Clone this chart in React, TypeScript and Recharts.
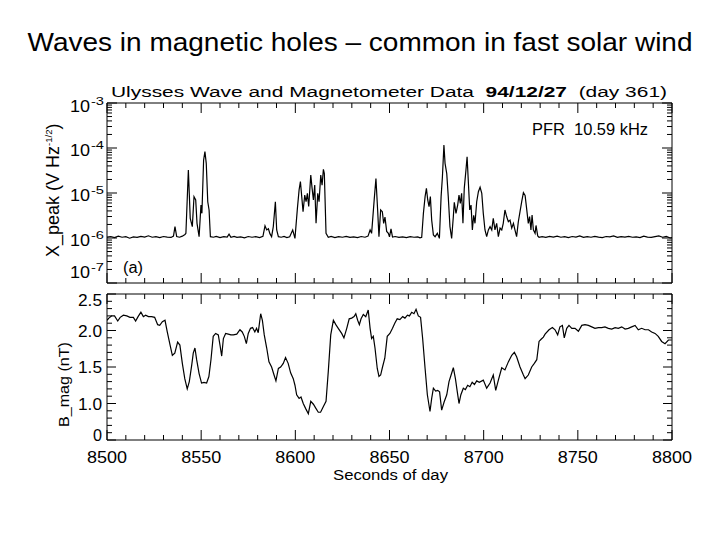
import { LineChart, Line, XAxis, YAxis } from 'recharts';

const FONT = '"Liberation Sans", Arial, Helvetica, sans-serif';

// X_peak (PFR 10.59 kHz), values in units of 1e-6 V Hz^-1/2
const xpTime = [
  8500, 8502, 8504, 8506, 8508, 8510, 8512, 8514, 8516, 8518, 8520, 8522, 8524, 8526, 8528, 8530,
  8532, 8534, 8535.3, 8536.1, 8537, 8538.5, 8540, 8541.4, 8541.9, 8543.2, 8544.2, 8545.3, 8546.2,
  8547.1, 8547.8, 8548.9, 8549.9, 8550.4, 8551.3, 8552.0, 8552.7, 8553.5, 8554.2, 8554.9, 8556.5,
  8558, 8560, 8562, 8563.8, 8564.8, 8565.8, 8567.5, 8569, 8571, 8573, 8575, 8577, 8579, 8581,
  8582.8, 8583.9, 8584.8, 8585.7, 8586.5, 8587.4, 8588.3, 8589.4, 8590.1, 8591.0, 8592.5, 8594,
  8595.5, 8597, 8598.6, 8599.8, 8601.1, 8602.0, 8602.7, 8603.4, 8604.1, 8605.0, 8605.7, 8606.4,
  8607.1, 8608.2, 8608.9, 8609.6, 8610.3, 8611.0, 8611.9, 8612.6, 8613.5, 8614.2, 8614.9, 8615.4,
  8616.3, 8617.5, 8619, 8621, 8623, 8625, 8627, 8629, 8631, 8633, 8635, 8637, 8638.6, 8639.7,
  8640.5, 8641.9, 8642.8, 8643.7, 8644.4, 8645.3, 8646.2, 8646.9, 8647.6, 8648.5, 8649.4, 8650.0,
  8650.8, 8651.6, 8653, 8655, 8657, 8659, 8661, 8663, 8665, 8666.2, 8667.1, 8668.0, 8668.9, 8669.6,
  8670.3, 8671.0, 8671.7, 8672.4, 8673.3, 8674.2, 8675.4, 8676.5, 8677.4, 8678.1, 8678.9, 8679.5,
  8680.4, 8681.2, 8682.1, 8683.0, 8683.9, 8684.4, 8685.3, 8686.2, 8686.9, 8687.6, 8688.3, 8689.0,
  8689.7, 8690.6, 8691.2, 8691.9, 8692.6, 8693.3, 8694.0, 8694.7, 8695.4, 8696.3, 8697.2, 8698.1,
  8699.0, 8699.8, 8700.7, 8701.6, 8702.5, 8703.4, 8704.3, 8705.1, 8706.0, 8706.9, 8707.8, 8708.7,
  8709.6, 8710.4, 8711.3, 8712.2, 8713.1, 8714.0, 8714.9, 8715.8, 8716.6, 8717.5, 8718.4, 8719.3,
  8720.2, 8721.1, 8722.0, 8722.8, 8723.7, 8724.4, 8725.1, 8725.7, 8726.4, 8727.3, 8727.8, 8728.7,
  8729.4, 8731, 8733, 8735, 8737, 8739, 8741, 8743, 8745, 8747, 8749, 8751, 8753, 8755, 8757, 8759,
  8761, 8763, 8765, 8767, 8769, 8771, 8773, 8775, 8777, 8779, 8781, 8783, 8785, 8787, 8789, 8791,
  8793, 8795, 8797, 8799, 8800,
];
const xpVal = [
  1.05, 1.08, 1.02, 1.10, 1.04, 1.07, 0.99, 1.06, 1.03, 1.09, 1.05, 1.12, 1.04, 1.07, 1.02, 1.08,
  1.05, 1.03, 1.10, 1.79, 1.08, 1.04, 1.10, 1.20, 1.27, 32.4, 2.73, 1.79, 8.3,
  7.0, 2.12, 1.07, 5.4, 3.53, 54, 83, 45.6, 6.4, 4.2, 1.07, 1.04,
  1.09, 1.02, 1.07, 1.05, 1.22, 1.04, 1.08, 1.03, 1.06, 1.01, 1.08, 1.04, 1.07, 1.02,
  1.09, 1.86, 1.51, 1.60, 1.25, 1.07, 1.79, 6.4, 1.51, 1.07, 1.04, 1.08,
  1.02, 1.06, 1.51, 0.98, 4.56, 11.7, 17.9, 8.3, 3.85, 9.0, 6.4, 9.8,
  5.0, 25, 12.7, 7.0, 15, 2.12, 9.8, 6.4, 25, 15, 33.6, 27,
  1.27, 1.04, 1.08, 1.02, 1.07, 1.04, 1.09, 1.03, 1.06, 1.02, 1.08, 1.04, 1.10, 1.51,
  1.27, 7.3, 21, 4.2, 1.07, 4.2, 3.85, 2.12, 2.9, 1.4, 1.27, 1.06,
  1.60, 1.05, 1.08, 1.03, 1.06, 1.02, 1.07, 1.04, 1.06, 1.01, 1.04, 3.53, 8.3, 12.7,
  7.0, 5.0, 8.3, 2.5, 1.17, 1.07, 1.27, 0.98, 8.3, 23, 117, 45.6,
  27, 8.3, 1.79, 0.98, 3.0, 6.2, 3.53, 5.4, 9.0, 5.9, 9.8, 2.12,
  12.7, 32.4, 64, 16.4, 4.2, 5.4, 1.51, 3.2, 2.12, 6.4, 10.7, 13.4,
  9.8, 3.53, 1.51, 1.07, 1.51, 1.79, 1.51, 2.73, 1.51, 2.12, 1.07, 1.66,
  1.51, 2.12, 4.2, 3.0, 2.3, 2.5, 1.66, 2.12, 1.51, 1.07, 2.3, 3.85,
  6.4, 10.2, 8.8, 4.56, 2.12, 3.0, 1.51, 3.24, 1.51, 1.27, 1.9, 1.11,
  1.04, 1.07, 1.03, 1.09, 1.05, 1.10, 1.04, 1.07, 1.02, 1.08, 1.05, 1.11, 1.03, 1.07, 1.04, 1.09,
  1.05, 1.02, 1.08, 1.06, 1.11, 1.03, 1.07, 1.05, 1.09, 1.04, 1.06, 1.02, 1.10, 1.05, 1.03, 1.07,
  1.11, 1.04, 1.08, 1.00, 1.02,
];

// B_mag (nT)
const bTime = [
  8500.0, 8501.0, 8502.5, 8504.0, 8505.7, 8507.0, 8508.7, 8510.5, 8512.2, 8514.0, 8515.2, 8516.5,
  8518.0, 8519.3, 8520.5, 8522.0, 8523.7, 8525.3, 8526.9, 8528.0, 8529.4, 8530.8, 8532.0, 8533.5,
  8534.7, 8536.0, 8537.5, 8538.7, 8540.0, 8541.3, 8542.6, 8543.7, 8545.0, 8545.8, 8546.7, 8547.6,
  8548.9, 8550.2, 8551.5, 8552.9, 8554.1, 8555.2, 8556.4, 8557.7, 8559.1, 8560.0, 8560.9, 8561.8,
  8563.0, 8564.4, 8565.8, 8567.1, 8568.9, 8570.6, 8571.8, 8572.9, 8574.0, 8575.0, 8576.2, 8577.3,
  8578.5, 8579.4, 8580.3, 8581.6, 8582.5, 8583.5, 8584.8, 8586.0, 8587.4, 8588.7, 8589.7, 8591.0,
  8592.2, 8593.6, 8594.8, 8596.2, 8597.5, 8598.9, 8599.8, 8600.7, 8602.0, 8603.0, 8604.2, 8605.5,
  8606.9, 8608.2, 8609.6, 8611.0, 8612.2, 8613.4, 8614.9, 8616.3, 8617.5, 8618.8, 8620.2, 8621.5,
  8622.8, 8624.6, 8625.8, 8627.3, 8628.6, 8629.9, 8631.2, 8632.1, 8633.1, 8634.0, 8634.9, 8636.1,
  8637.4, 8638.7, 8639.7, 8640.5, 8641.4, 8642.3, 8643.5, 8644.4, 8645.3, 8646.3, 8647.5, 8648.8,
  8650.2, 8651.6, 8652.8, 8654.1, 8655.5, 8657.0, 8658.2, 8659.5, 8660.6, 8661.8, 8663.0, 8664.1,
  8665.3, 8666.5, 8667.6, 8668.9, 8670.1, 8671.5, 8672.4, 8673.3, 8674.5, 8675.6, 8676.6, 8677.7,
  8679.0, 8680.4, 8681.6, 8682.7, 8683.9, 8685.0, 8686.0, 8686.9, 8687.9, 8689.2, 8690.3, 8691.5,
  8692.7, 8693.9, 8695.1, 8696.3, 8697.7, 8699.8, 8701.6, 8703.4, 8705.1, 8706.4, 8707.8, 8709.6,
  8711.3, 8713.1, 8714.9, 8716.3, 8717.5, 8719.3, 8721.1, 8722.0, 8723.7, 8725.5, 8726.9, 8728.2,
  8729.4, 8730.5, 8731.7, 8732.6, 8734.7, 8736.5, 8737.9, 8739.3, 8740.5, 8741.8, 8742.8, 8744.1,
  8745.3, 8746.8, 8748.5, 8750.3, 8752.1, 8753.8, 8755.6, 8757.4, 8759.1, 8760.9, 8762.7, 8764.4,
  8766.2, 8768.0, 8769.8, 8771.5, 8773.3, 8775.1, 8776.8, 8778.6, 8780.4, 8782.1, 8783.9, 8785.7,
  8787.5, 8789.2, 8791.0, 8792.7, 8794.5, 8796.3, 8798.1, 8799.9,
];
const bVal = [
  2.14, 2.17, 2.20, 2.20, 2.13, 2.18, 2.21, 2.20, 2.18, 2.18, 2.13, 2.19,
  2.25, 2.19, 2.21, 2.19, 2.19, 2.18, 2.08, 2.07, 2.12, 2.14, 1.98, 1.80,
  1.66, 1.69, 1.84, 1.80, 1.55, 1.34, 1.20, 1.30, 1.53, 1.69, 1.76, 1.60,
  1.41, 1.28, 1.29, 1.28, 1.37, 1.60, 1.92, 1.96, 1.94, 1.80, 1.65, 1.89,
  1.96, 1.95, 1.94, 1.94, 1.95, 2.01, 1.98, 1.92, 1.82, 1.96, 2.03, 2.04,
  1.98, 2.03, 1.97, 2.23, 2.14, 1.94, 1.76, 1.57, 1.50, 1.39, 1.31, 1.48,
  1.50, 1.55, 1.63, 1.55, 1.42, 1.34, 1.25, 1.12, 1.07, 1.09, 1.00, 0.93,
  0.86, 1.03, 0.99, 0.93, 0.88, 0.88, 0.96, 1.03, 1.44, 1.94, 2.14, 2.08,
  2.03, 1.96, 1.90, 2.03, 2.16, 2.17, 2.19, 2.23, 2.14, 2.08, 2.16, 2.22,
  2.19, 2.28, 2.03, 1.89, 1.92, 1.76, 1.48, 1.37, 1.39, 1.50, 1.62, 1.92,
  1.96, 2.03, 2.10, 2.16, 2.15, 2.19, 2.17, 2.21, 2.20, 2.25, 2.23, 2.29,
  2.20, 2.18, 1.89, 1.48, 1.12, 0.89, 1.07, 1.21, 1.17, 1.18, 1.16, 0.91,
  1.02, 1.12, 1.30, 1.39, 1.49, 1.34, 1.16, 1.00, 1.12, 1.21, 1.19, 1.25,
  1.23, 1.29, 1.26, 1.31, 1.29, 1.32, 1.21, 1.28, 1.39, 1.18, 1.32, 1.49,
  1.46, 1.57, 1.66, 1.70, 1.64, 1.50, 1.39, 1.34, 1.39, 1.50, 1.55, 1.60,
  1.85, 1.88, 1.91, 1.95, 2.01, 2.04, 2.01, 1.94, 2.05, 2.07, 1.90, 2.03,
  2.07, 2.03, 2.03, 1.99, 2.07, 2.08, 2.07, 2.05, 2.03, 2.04, 2.04, 2.05,
  2.03, 2.02, 2.04, 2.03, 2.05, 2.02, 2.03, 2.05, 2.07, 2.01, 2.03, 2.01,
  2.01, 1.98, 1.96, 1.92, 1.85, 1.82, 1.87, 1.87,
];

// axes
const xTicks = [
  8500, 8510, 8520, 8530, 8540, 8550, 8560, 8570, 8580, 8590, 8600, 8610, 8620, 8630, 8640, 8650,
  8660, 8670, 8680, 8690, 8700, 8710, 8720, 8730, 8740, 8750, 8760, 8770, 8780, 8790, 8800,
];
const xMajor = [8500, 8550, 8600, 8650, 8700, 8750, 8800];
const xLabels = ['8500', '8550', '8600', '8650', '8700', '8750', '8800'];

const logDecades = [1e-7, 1e-6, 1e-5, 1e-4];
const logMult = [1, 2, 3, 4, 5, 6, 7, 8, 9];
const logMajor = [1e-7, 1e-6, 1e-5, 1e-4, 1e-3];
const logExp = ['-7', '-6', '-5', '-4', '-3'];
const logTicks = logDecades.flatMap((d) => logMult.map((m) => m * d)).concat([1e-3]);

const bTicks = [
  0.5, 0.6, 0.7, 0.8, 0.9, 1.0, 1.1, 1.2, 1.3, 1.4, 1.5, 1.6, 1.7, 1.8, 1.9, 2.0, 2.1, 2.2, 2.3,
  2.4, 2.5,
];
const bMajor = [0.5, 1.0, 1.5, 2.0, 2.5];
const bLabels = ['0', '1.0', '1.5', '2.0', '2.5'];

const topData = xpTime.map((t, i) => ({ t, v: xpVal[i] * 1e-6 }));
const botData = bTime.map((t, i) => ({ t, v: bVal[i] }));

const near = (a: number, b: number) => Math.abs(a / b - 1) < 1e-6;

function XTick({ x, y, payload, dir, labels }: any) {
  const v = payload.value;
  const mi = xMajor.indexOf(v);
  const len = mi >= 0 ? 10 : 5;
  return (
    <g>
      <line x1={x} y1={y} x2={x} y2={y + dir * len} stroke="#000" strokeWidth={1} />
      {labels && mi >= 0 && (
        <text x={x} y={y + 23} textAnchor="middle" fontSize={16} fontFamily={FONT}
          textLength={40} lengthAdjust="spacingAndGlyphs" fill="#000">
          {xLabels[mi]}
        </text>
      )}
    </g>
  );
}

function LogTick({ x, y, payload, dir, labels }: any) {
  const v = payload.value;
  const mi = logMajor.findIndex((m) => near(v, m));
  const len = mi >= 0 ? 10 : 5;
  let base = y + 8;
  if (mi === 4) base = y + 9;
  if (mi === 0) base = y - 5;
  return (
    <g>
      <line x1={x} y1={y} x2={x + dir * len} y2={y} stroke="#000" strokeWidth={1} />
      {labels && mi >= 0 && (
        <g fontFamily={FONT} fill="#000">
          <text x={x - 17} y={base} textAnchor="end" fontSize={16} textLength={20}
            lengthAdjust="spacingAndGlyphs">10</text>
          <text x={x - 16} y={base - 7} fontSize={11} textLength={13}
            lengthAdjust="spacingAndGlyphs">{logExp[mi]}</text>
        </g>
      )}
    </g>
  );
}

function BTick({ x, y, payload, dir, labels }: any) {
  const v = payload.value;
  const mi = bMajor.findIndex((m) => near(v, m));
  const len = mi >= 0 ? 9 : 5;
  let base = y + 6;
  if (mi === 4) base = y + 12;
  if (mi === 0) base = y + 1;
  const w = bLabels[mi] === '0' ? 9 : 24;
  return (
    <g>
      <line x1={x} y1={y} x2={x + dir * len} y2={y} stroke="#000" strokeWidth={1} />
      {labels && mi >= 0 && (
        <text x={x - 5} y={base} textAnchor="end" fontSize={16} fontFamily={FONT}
          textLength={w} lengthAdjust="spacingAndGlyphs" fill="#000">
          {bLabels[mi]}
        </text>
      )}
    </g>
  );
}

const axisLine = { stroke: '#000', strokeWidth: 1 };

export default function App() {
  return (
    <div style={{ position: 'absolute', left: 0, top: 0, width: 720, height: 540, background: '#fff', fontFamily: FONT }}>
      <div style={{ position: 'absolute', left: 0, top: 0 }}>
        <LineChart width={720} height={540} data={topData}
          margin={{ top: 102, right: 47, bottom: 256, left: 106 }}>
          <XAxis xAxisId="b" dataKey="t" type="number" domain={[8500, 8800]} allowDataOverflow
            ticks={xTicks} interval={0} height={1} tickSize={0} tickMargin={0} axisLine={axisLine}
            tickLine={false} tick={(p: any) => <XTick {...p} dir={-1} labels={false} />} />
          <XAxis xAxisId="t" orientation="top" dataKey="t" type="number" domain={[8500, 8800]} allowDataOverflow
            ticks={xTicks} interval={0} height={1} tickSize={0} tickMargin={0} axisLine={axisLine}
            tickLine={false} tick={(p: any) => <XTick {...p} dir={1} labels={false} />} />
          <YAxis yAxisId="l" scale="log" type="number" domain={[1e-7, 1e-3]} allowDataOverflow
            ticks={logTicks} interval={0} width={1} tickSize={0} tickMargin={0} axisLine={axisLine}
            tickLine={false} tick={(p: any) => <LogTick {...p} dir={1} labels />} />
          <YAxis yAxisId="r" orientation="right" scale="log" type="number" domain={[1e-7, 1e-3]} allowDataOverflow
            ticks={logTicks} interval={0} width={1} tickSize={0} tickMargin={0} axisLine={axisLine}
            tickLine={false} tick={(p: any) => <LogTick {...p} dir={-1} labels={false} />} />
          <Line xAxisId="b" yAxisId="l" type="linear" dataKey="v" stroke="#000" strokeWidth={1.2}
            dot={false} isAnimationActive={false} />
        </LineChart>
      </div>
      <div style={{ position: 'absolute', left: 0, top: 0 }}>
        <LineChart width={720} height={540} data={botData}
          margin={{ top: 293, right: 47, bottom: 99, left: 106 }}>
          <XAxis xAxisId="b" dataKey="t" type="number" domain={[8500, 8800]} allowDataOverflow
            ticks={xTicks} interval={0} height={1} tickSize={0} tickMargin={0} axisLine={axisLine}
            tickLine={false} tick={(p: any) => <XTick {...p} dir={-1} labels />} />
          <XAxis xAxisId="t" orientation="top" dataKey="t" type="number" domain={[8500, 8800]} allowDataOverflow
            ticks={xTicks} interval={0} height={1} tickSize={0} tickMargin={0} axisLine={axisLine}
            tickLine={false} tick={(p: any) => <XTick {...p} dir={1} labels={false} />} />
          <YAxis yAxisId="l" type="number" domain={[0.5, 2.5]} allowDataOverflow
            ticks={bTicks} interval={0} width={1} tickSize={0} tickMargin={0} axisLine={axisLine}
            tickLine={false} tick={(p: any) => <BTick {...p} dir={1} labels />} />
          <YAxis yAxisId="r" orientation="right" type="number" domain={[0.5, 2.5]} allowDataOverflow
            ticks={bTicks} interval={0} width={1} tickSize={0} tickMargin={0} axisLine={axisLine}
            tickLine={false} tick={(p: any) => <BTick {...p} dir={-1} labels={false} />} />
          <Line xAxisId="b" yAxisId="l" type="linear" dataKey="v" stroke="#000" strokeWidth={1.2}
            dot={false} isAnimationActive={false} />
        </LineChart>
      </div>
      <svg width={720} height={540} style={{ position: 'absolute', left: 0, top: 0, pointerEvents: 'none' }}
        fontFamily={FONT} fill="#000">
        <text x={360} y={51} textAnchor="middle" fontSize={25} textLength={665} lengthAdjust="spacingAndGlyphs">
          Waves in magnetic holes – common in fast solar wind
        </text>
        <text x={111} y={97} fontSize={15.5} textLength={556} lengthAdjust="spacingAndGlyphs"
          style={{ whiteSpace: 'pre' }}>
          {'Ulysses Wave and Magnetometer Data  '}
          <tspan fontWeight="bold">94/12/27</tspan>
          {'  (day 361)'}
        </text>
        <text x={532} y={135} fontSize={16.5} textLength={116} lengthAdjust="spacingAndGlyphs"
          style={{ whiteSpace: 'pre' }}>
          {'PFR  10.59 kHz'}
        </text>
        <text x={123} y={273} fontSize={16} textLength={20} lengthAdjust="spacingAndGlyphs">(a)</text>
        <text x={390.5} y={480} textAnchor="middle" fontSize={15.5} textLength={115}
          lengthAdjust="spacingAndGlyphs">Seconds of day</text>
        <text transform="translate(59,257) rotate(-90)" fontSize={18}>
          X_peak (V Hz
          <tspan fontSize={9.5} dy={-7}>-1/2</tspan>
          <tspan fontSize={18} dy={7}>)</tspan>
        </text>
        <text transform="translate(69,384.5) rotate(-90)" textAnchor="middle" fontSize={15.5}
          textLength={85} lengthAdjust="spacingAndGlyphs">B_mag (nT)</text>
      </svg>
    </div>
  );
}
